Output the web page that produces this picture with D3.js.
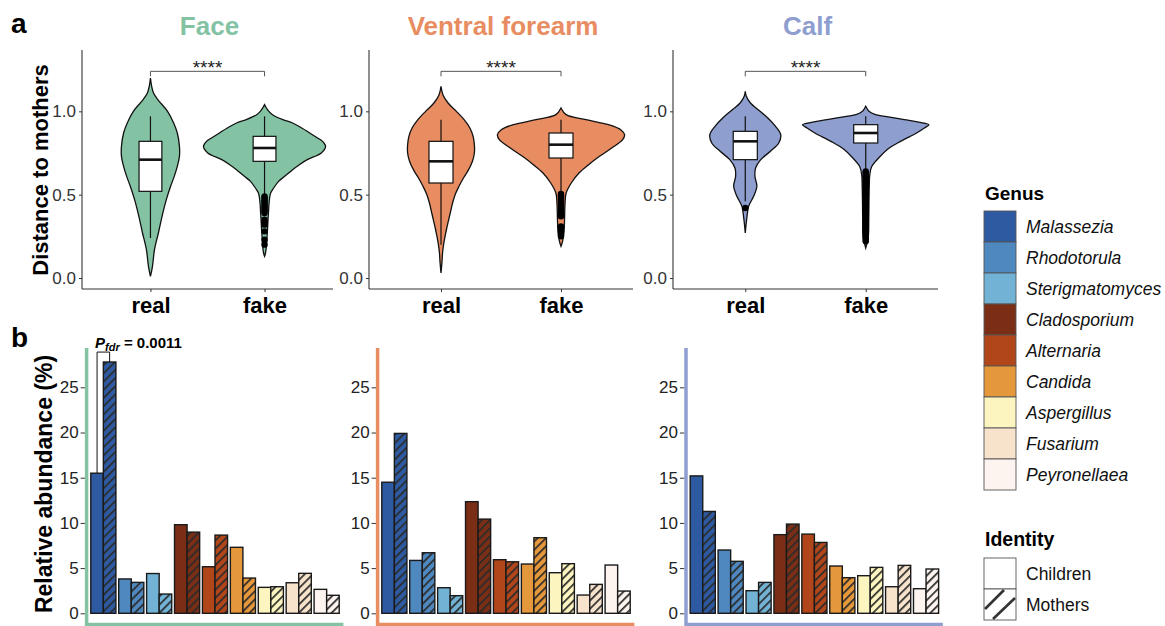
<!DOCTYPE html>
<html><head><meta charset="utf-8">
<script src="https://cdn.jsdelivr.net/npm/d3@7"></script>
<style>body{margin:0;background:#fff;} svg text{font-family:"Liberation Sans", Arial, sans-serif;}</style>
</head><body><svg id="c" width="1165" height="626"></svg>
<script>
// ---------------- DATA ----------------
const sites = ["Face", "Ventral forearm", "Calf"];
const siteColors = ["#83C3A4", "#E88C62", "#8E9ECF"];
const groups = ["real", "fake"];
const yTicksA = [0.0, 0.5, 1.0];
const sigLabel = "****";
const sigLevel = 1.24;

// violin density profiles [value, relative density]
const faceReal = [[1.20,0],[1.15,0.02],[1.11,0.05],[1.07,0.12],[1.00,0.28],[0.93,0.38],[0.87,0.44],[0.79,0.475],[0.73,0.475],[0.67,0.44],[0.61,0.39],[0.55,0.33],[0.47,0.26],[0.37,0.19],[0.27,0.13],[0.17,0.066],[0.07,0.033],[0.01,0]];
const faceFake = [[1.04,0],[1.02,0.03],[1.00,0.07],[0.98,0.13],[0.95,0.3],[0.93,0.46],[0.90,0.61],[0.87,0.74],[0.84,0.87],[0.82,0.95],[0.79,1.0],[0.75,0.93],[0.71,0.7],[0.68,0.57],[0.65,0.46],[0.61,0.33],[0.58,0.23],[0.54,0.15],[0.51,0.1],[0.45,0.074],[0.40,0.066],[0.35,0.057],[0.30,0.05],[0.25,0.041],[0.20,0.033],[0.15,0.016],[0.13,0]];
const forearmReal = [[1.15,0],[1.10,0.03],[1.05,0.11],[1.00,0.24],[0.95,0.36],[0.90,0.45],[0.85,0.5],[0.80,0.52],[0.75,0.52],[0.70,0.49],[0.65,0.43],[0.60,0.35],[0.55,0.28],[0.50,0.22],[0.45,0.18],[0.40,0.15],[0.35,0.12],[0.30,0.09],[0.25,0.063],[0.20,0.04],[0.15,0.024],[0.10,0.016],[0.03,0]];
const forearmFake = [[1.02,0],[0.98,0.08],[0.95,0.39],[0.92,0.74],[0.89,0.93],[0.86,0.99],[0.83,0.96],[0.78,0.79],[0.73,0.6],[0.68,0.43],[0.63,0.28],[0.57,0.16],[0.51,0.08],[0.45,0.063],[0.35,0.055],[0.28,0.047],[0.22,0.024],[0.19,0]];
const calfReal = [[1.12,0],[1.09,0.016],[1.05,0.08],[1.01,0.2],[0.96,0.35],[0.91,0.47],[0.86,0.55],[0.81,0.52],[0.76,0.39],[0.71,0.24],[0.66,0.16],[0.61,0.15],[0.55,0.18],[0.49,0.13],[0.43,0.052],[0.37,0.027],[0.32,0.012],[0.27,0]];
const calfFake = [[1.03,0],[1.00,0.05],[0.98,0.15],[0.97,0.3],[0.95,0.6],[0.935,0.82],[0.92,0.98],[0.90,0.91],[0.87,0.79],[0.82,0.54],[0.77,0.33],[0.72,0.2],[0.67,0.095],[0.62,0.063],[0.55,0.055],[0.45,0.05],[0.35,0.047],[0.25,0.04],[0.18,0]];

// box stats [whisker low, q1, median, q3, whisker high]
const faceRealBox = [0.24, 0.52, 0.71, 0.82, 0.97];
const faceFakeBox = [0.50, 0.70, 0.78, 0.85, 0.97];
const forearmRealBox = [0.20, 0.57, 0.70, 0.82, 0.95];
const forearmFakeBox = [0.51, 0.72, 0.80, 0.87, 0.95];
const calfRealBox = [0.46, 0.71, 0.82, 0.88, 0.97];
const calfFakeBox = [0.65, 0.81, 0.87, 0.92, 0.97];

// outliers
const faceRealOut = [];
const faceFakeOut = [0.49,0.48,0.47,0.46,0.45,0.44,0.43,0.42,0.41,0.40,0.39,0.35,0.34,0.33,0.32,0.28,0.23,0.20];
const forearmRealOut = [];
const forearmFakeOut = [0.505,0.50,0.495,0.49,0.48,0.47,0.46,0.45,0.44,0.43,0.42,0.41,0.40,0.39,0.38,0.37,0.31,0.30,0.29,0.28,0.27,0.26,0.25];
const calfRealOut = [0.42];
const calfFakeOut = [0.64,0.63,0.62,0.61,0.60,0.59,0.58,0.57,0.56,0.55,0.54,0.53,0.52,0.51,0.50,0.49,0.48,0.47,0.46,0.45,0.44,0.43,0.42,0.41,0.40,0.39,0.38,0.37,0.36,0.35,0.34,0.33,0.32,0.31,0.30,0.29,0.28,0.27,0.26,0.25,0.24,0.23,0.22];

// panel b
const genera = ["Malassezia","Rhodotorula","Sterigmatomyces","Cladosporium","Alternaria","Candida","Aspergillus","Fusarium","Peyronellaea"];
const genusColors = ["#2D5AA0","#4E88BF","#72B3D5","#7B2E16","#B2461B","#E5973B","#FCF5BF","#F7E2CC","#FDF4EF"];
const identities = ["Children","Mothers"];
const yTicksB = [0, 5, 10, 15, 20, 25];
const faceChildren = [15.5, 3.8, 4.4, 9.8, 5.15, 7.3, 2.87, 3.38, 2.65];
const faceMothers = [27.8, 3.42, 2.13, 8.98, 8.65, 3.9, 2.94, 4.42, 1.99];
const forearmChildren = [14.5, 5.85, 2.83, 12.35, 5.93, 5.45, 4.49, 2.02, 5.34];
const forearmMothers = [19.9, 6.7, 1.95, 10.42, 5.7, 8.36, 5.49, 3.2, 2.46];
const calfChildren = [15.2, 7.0, 2.5, 8.7, 8.76, 5.23, 4.16, 2.94, 2.72];
const calfMothers = [11.27, 5.75, 3.42, 9.87, 7.84, 3.94, 5.08, 5.3, 4.9];
const pfdrLevel = 28.9;
const pfdrValue = "0.0011";

// ---------------- DRAW ----------------
const svg = d3.select("#c");
const FONT = '"Liberation Sans", Arial, sans-serif';

const defs = svg.append("defs");
const pat = defs.append("pattern").attr("id","hatch").attr("patternUnits","userSpaceOnUse")
  .attr("width",5.8).attr("height",5.8).attr("patternTransform","rotate(45)");
pat.append("rect").attr("x",0).attr("y",0).attr("width",1.7).attr("height",5.8).attr("fill","#2b2b2b");

// panel labels
svg.append("text").attr("x",11).attr("y",33).attr("font-size",28).attr("font-weight","bold").text("a");
svg.append("text").attr("x",11).attr("y",347).attr("font-size",28).attr("font-weight","bold").text("b");

// ---- panel a ----
const panelsA = [
  {x0:82, x1:333, prof:[faceReal,faceFake], box:[faceRealBox,faceFakeBox], out:[faceRealOut,faceFakeOut]},
  {x0:369, x1:633, prof:[forearmReal,forearmFake], box:[forearmRealBox,forearmFakeBox], out:[forearmRealOut,forearmFakeOut]},
  {x0:673, x1:938, prof:[calfReal,calfFake], box:[calfRealBox,calfFakeBox], out:[calfRealOut,calfFakeOut]}
];
const yA = d3.scaleLinear().domain([-0.066, 1.368]).range([289, 50]);

panelsA.forEach((p, i) => {
  const g = svg.append("g");
  const x = d3.scalePoint().domain(groups).range([p.x0, p.x1]).padding(0.6);
  const step = x.step();
  const wScale = d3.scaleLinear().domain([0, 1]).range([0, step * 0.535]);
  g.append("text").attr("x", (p.x0 + p.x1) / 2 + 2).attr("y", 35).attr("text-anchor","middle")
    .attr("font-size",26).attr("font-weight","bold").attr("fill", siteColors[i]).text(sites[i]);
  groups.forEach((grp, j) => {
    const cx = x(grp);
    const area = d3.area().y(d => yA(d[0])).x0(d => cx - wScale(d[1])).x1(d => cx + wScale(d[1]))
      .curve(d3.curveCatmullRom.alpha(0.5));
    g.append("path").attr("d", area(p.prof[j])).attr("fill", siteColors[i]).attr("stroke","#111").attr("stroke-width",1.3);
    const b = p.box[j];
    const bw = step * 0.2;
    g.append("line").attr("x1",cx).attr("x2",cx).attr("y1",yA(b[0])).attr("y2",yA(b[4])).attr("stroke","#111").attr("stroke-width",1.2);
    g.append("rect").attr("x",cx-bw/2).attr("width",bw).attr("y",yA(b[3])).attr("height",yA(b[1])-yA(b[3]))
      .attr("fill","#fff").attr("stroke","#111").attr("stroke-width",1.2);
    g.append("line").attr("x1",cx-bw/2).attr("x2",cx+bw/2).attr("y1",yA(b[2])).attr("y2",yA(b[2])).attr("stroke","#111").attr("stroke-width",2.6);
    g.selectAll(null).data(p.out[j]).enter().append("circle").attr("cx",cx).attr("cy",d=>yA(d)).attr("r",3.2).attr("fill","#000");
  });
  const xr = x("real"), xf = x("fake"), ys = yA(sigLevel), yt = yA(sigLevel - 0.03);
  g.append("path").attr("d", `M${xr},${yt}V${ys}H${xf}V${yt}`).attr("fill","none").attr("stroke","#555").attr("stroke-width",1);
  g.append("text").attr("x",(xr+xf)/2).attr("y",ys+3).attr("text-anchor","middle").attr("font-size",19).attr("fill","#222").text(sigLabel);
  const ax = g.append("g").attr("transform",`translate(${p.x0},0)`).call(d3.axisLeft(yA).tickValues(yTicksA).tickFormat(d3.format(".1f")).tickSize(3).tickPadding(3));
  ax.select(".domain").remove();
  ax.selectAll("text").attr("font-size",17).attr("fill","#333").style("font-family",FONT);
  ax.selectAll("line").attr("stroke","#333");
  g.append("line").attr("x1",p.x0).attr("x2",p.x0).attr("y1",50).attr("y2",289).attr("stroke","#333").attr("stroke-width",1.1);
  const bx = g.append("g").attr("transform","translate(0,289)").call(d3.axisBottom(x).tickSize(3).tickPadding(5));
  bx.select(".domain").remove();
  bx.selectAll("line").attr("stroke","#333");
  bx.selectAll("text").attr("font-size",22).attr("font-weight","bold").attr("fill","#000").style("font-family",FONT);
  g.append("line").attr("x1",p.x0).attr("x2",p.x1).attr("y1",289).attr("y2",289).attr("stroke","#333").attr("stroke-width",1.1);
});
svg.append("text").attr("transform","translate(48,170) rotate(-90)").attr("text-anchor","middle")
  .attr("font-size",22).attr("font-weight","bold").text("Distance to mothers");

// ---- panel b ----
const panelsB = [
  {x0:86.6, x1:343.4, c:faceChildren, m:faceMothers},
  {x0:377.6, x1:634.4, c:forearmChildren, m:forearmMothers},
  {x0:686, x1:942.8, c:calfChildren, m:calfMothers}
];
const yB = d3.scaleLinear().domain([-1.25, 29.35]).range([624.6, 348]);

panelsB.forEach((p, i) => {
  const g = svg.append("g");
  const x = d3.scalePoint().domain(genera).range([p.x0, p.x1]).padding(0.6);
  const step = x.step();
  const bw = step * 0.45;
  genera.forEach(gn => {
    g.append("line").attr("x1",x(gn)).attr("x2",x(gn)).attr("y1",626).attr("y2",630).attr("stroke","#888");
  });
  genera.forEach((gn, k) => {
    const cx = x(gn);
    g.append("rect").attr("x",cx-bw).attr("width",bw).attr("y",yB(p.c[k])).attr("height",yB(0)-yB(p.c[k]))
      .attr("fill",genusColors[k]).attr("stroke","#1a1a1a").attr("stroke-width",1.4);
    g.append("rect").attr("x",cx).attr("width",bw).attr("y",yB(p.m[k])).attr("height",yB(0)-yB(p.m[k]))
      .attr("fill",genusColors[k]);
    g.append("rect").attr("x",cx).attr("width",bw).attr("y",yB(p.m[k])).attr("height",yB(0)-yB(p.m[k]))
      .attr("fill","url(#hatch)").attr("stroke","#1a1a1a").attr("stroke-width",1.4);
  });
  const ax = g.append("g").attr("transform",`translate(${p.x0-1.5},0)`).call(d3.axisLeft(yB).tickValues(yTicksB).tickSize(4.5).tickPadding(2));
  ax.select(".domain").remove();
  ax.selectAll("text").attr("font-size",17).attr("fill","#222").style("font-family",FONT);
  ax.selectAll("line").attr("stroke","#333");
  g.append("path").attr("d",`M${p.x0},348V${yB(-1.25)}H${p.x1}`).attr("fill","none")
    .attr("stroke",siteColors[i]).attr("stroke-width",3.5);
  if (i === 0) {
    const xc = x(genera[0]) - bw/2, xm = x(genera[0]) + bw/2;
    g.append("path").attr("d",`M${xc},${yB(p.c[0])}V${yB(pfdrLevel)}H${xm}V${yB(p.m[0])}`).attr("fill","none").attr("stroke","#111").attr("stroke-width",1);
    const t = g.append("text").attr("x",xc-2).attr("y",yB(pfdrLevel)-4).attr("font-size",15).attr("font-weight","bold");
    t.append("tspan").attr("font-style","italic").text("P");
    t.append("tspan").attr("font-style","italic").attr("font-size",11).attr("dy",3).text("fdr");
    t.append("tspan").attr("dy",-3).text(" = " + pfdrValue);
  }
});
svg.append("text").attr("transform","translate(52,484) rotate(-90)").attr("text-anchor","middle")
  .attr("font-size",23).attr("font-weight","bold").text("Relative abundance (%)");

// ---- legends ----
const lg = svg.append("g");
const lx = 984, kw = 32, kh = 31;
lg.append("text").attr("x",985).attr("y",200).attr("font-size",19).attr("font-weight","bold").text("Genus");
genera.forEach((gn, k) => {
  const y0 = 211 + k * kh;
  lg.append("rect").attr("x",lx).attr("y",y0).attr("width",kw).attr("height",kh).attr("fill",genusColors[k]).attr("stroke","#555").attr("stroke-width",0.9);
  lg.append("text").attr("x",1026).attr("y",y0 + kh/2 + 6).attr("font-size",17.5).attr("font-style","italic").attr("fill","#111").text(gn);
});
lg.append("text").attr("x",985).attr("y",546).attr("font-size",19.5).attr("font-weight","bold").text("Identity");
identities.forEach((id, k) => {
  const y0 = 558 + k * kh;
  lg.append("rect").attr("x",lx).attr("y",y0).attr("width",kw).attr("height",kh).attr("fill","#fff").attr("stroke","#555").attr("stroke-width",0.9);
  if (k === 1) {
    lg.append("line").attr("x1",lx+1).attr("y1",y0+20).attr("x2",lx+20).attr("y2",y0+1).attr("stroke","#333").attr("stroke-width",2.6);
    lg.append("line").attr("x1",lx+9).attr("y1",y0+kh-1).attr("x2",lx+kw-1).attr("y2",y0+9).attr("stroke","#333").attr("stroke-width",2.6);
  }
  lg.append("text").attr("x",1026).attr("y",y0 + kh/2 + 6).attr("font-size",17.5).attr("fill","#111").text(id);
});
</script></body></html>
